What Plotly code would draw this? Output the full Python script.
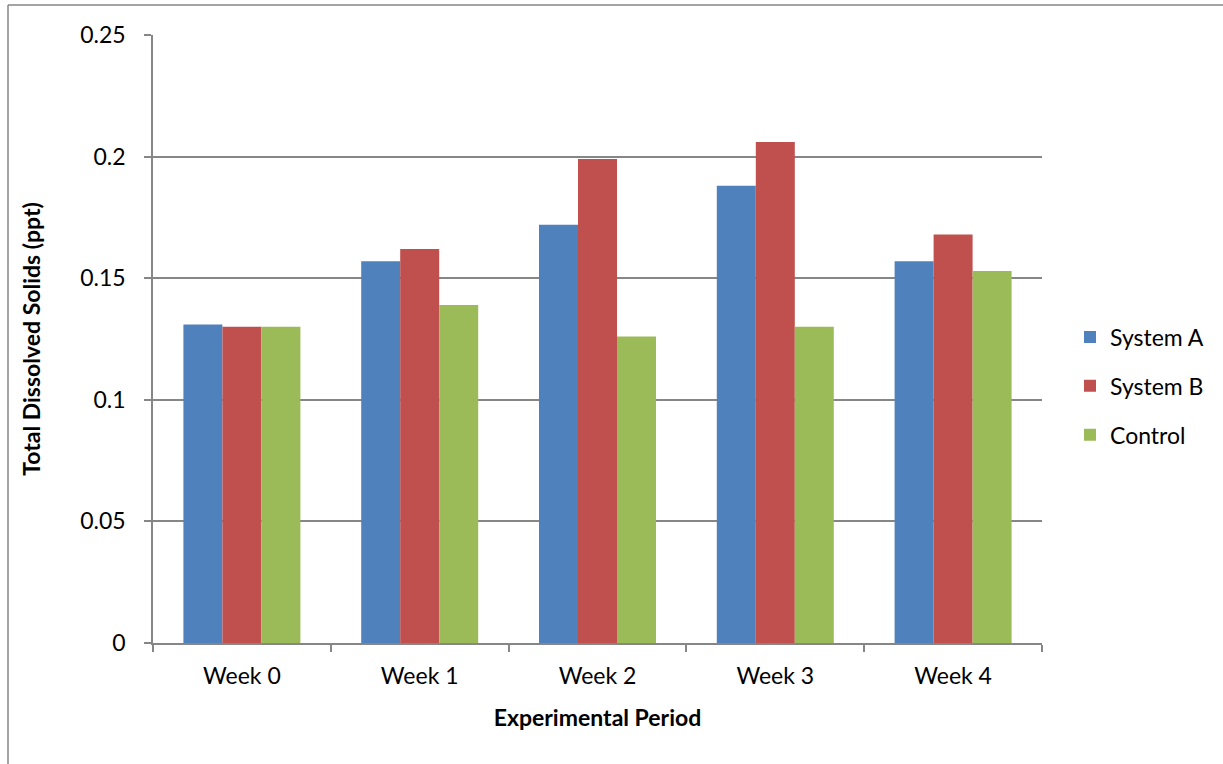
import plotly.graph_objects as go

# Weekly total dissolved solids readings (ppt)
weeks = ["Week 0", "Week 1", "Week 2", "Week 3", "Week 4"]
system_a = [0.131, 0.157, 0.172, 0.188, 0.157]
system_b = [0.130, 0.162, 0.199, 0.206, 0.168]
control = [0.130, 0.139, 0.126, 0.130, 0.153]
y_ticks = [0, 0.05, 0.1, 0.15, 0.2, 0.25]
y_tick_text = ["0", "0.05", "0.1", "0.15", "0.2", "0.25"]

series = [
    ("System A", system_a, "#4F81BD"),
    ("System B", system_b, "#C0504D"),
    ("Control", control, "#9BBB59"),
]

FONT = "Lato, Open Sans, sans-serif"
GRID = "#868686"
TICK_SIZE = 23
TITLE_SIZE = 23

fig = go.Figure()
for name, vals, color in series:
    fig.add_trace(go.Bar(
        x=weeks, y=vals, name=name, legendgroup=name,
        marker=dict(color=color, line=dict(width=0)),
    ))

W, H = 1223, 764
ml, mr, mt, mb = 153, 181, 35, 121
pw, ph = W - ml - mr, H - mt - mb

# Outer chart frame (left and top edges)
fx = (8 - ml) / pw
fy_top = 1 + (mt - 5) / ph
fy_bot = -(mb + 5) / ph
fx_right = (W - ml + 5) / pw
fig.add_shape(type="line", xref="paper", yref="paper",
              x0=fx, x1=fx, y0=fy_bot, y1=fy_top,
              line=dict(color=GRID, width=1.5))
fig.add_shape(type="line", xref="paper", yref="paper",
              x0=fx, x1=fx_right, y0=fy_top, y1=fy_top,
              line=dict(color=GRID, width=1.5))

fig.update_layout(
    width=W, height=H,
    margin=dict(l=ml, r=mr, t=mt, b=mb, autoexpand=False),
    paper_bgcolor="white", plot_bgcolor="white",
    barmode="group", bargap=0.342, bargroupgap=0,
    font=dict(family=FONT, size=TICK_SIZE, color="black"),
    showlegend=True,
    legend=dict(
        x=(1070 - ml) / pw, xanchor="left",
        y=(643 - 386) / ph, yanchor="middle",
        font=dict(family=FONT, size=TICK_SIZE, color="black"),
        tracegroupgap=16, itemwidth=30,
        bgcolor="rgba(0,0,0,0)",
    ),
    xaxis=dict(
        type="category",
        showline=True, linecolor=GRID, linewidth=1.5,
        ticks="outside", tickson="boundaries", ticklen=7,
        tickcolor=GRID, tickwidth=1.5,
        ticklabelstandoff=12,
        showgrid=False,
        tickfont=dict(family=FONT, size=TICK_SIZE),
        title=dict(text="<b>Experimental Period</b>", standoff=22,
                   font=dict(family=FONT, size=TITLE_SIZE)),
    ),
    yaxis=dict(
        range=[0, 0.25],
        tickvals=y_ticks, ticktext=y_tick_text,
        showline=True, linecolor=GRID, linewidth=1.5,
        ticks="outside", ticklen=7, tickcolor=GRID, tickwidth=1.5,
        ticklabelstandoff=14,
        showgrid=True, gridcolor=GRID, gridwidth=1.5,
        zeroline=False,
        tickfont=dict(family=FONT, size=TICK_SIZE),
        title=dict(text="<b>Total Dissolved Solids (ppt)</b>", standoff=33,
                   font=dict(family=FONT, size=TITLE_SIZE)),
    ),
)

fig.write_html("out.html")
